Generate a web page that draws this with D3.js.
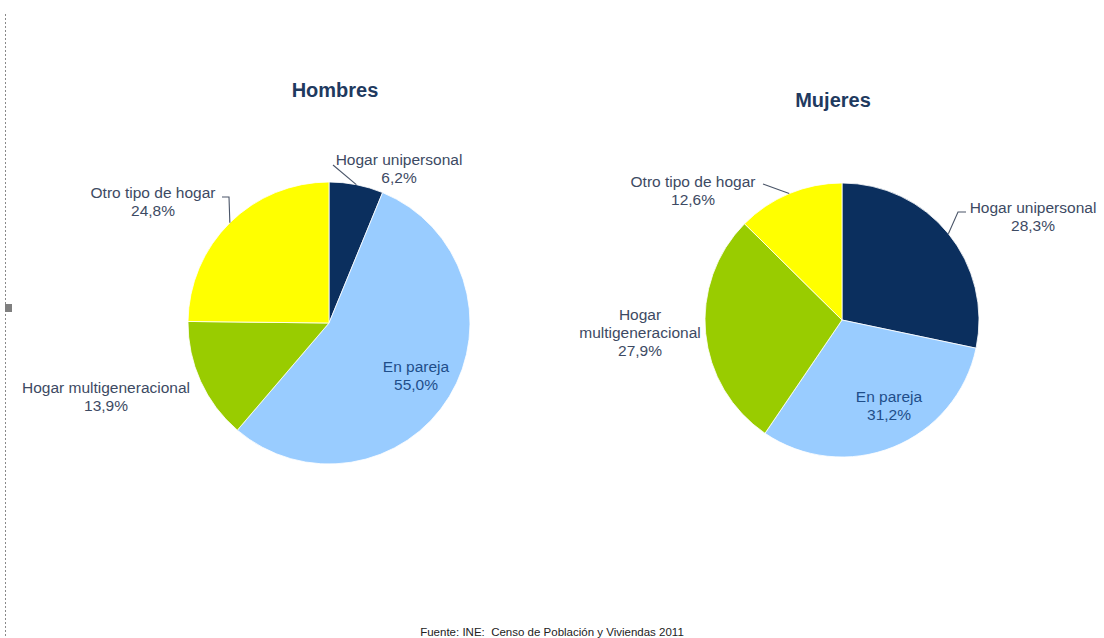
<!DOCTYPE html>
<html lang="es">
<head>
<meta charset="utf-8">
<script src="https://cdn.jsdelivr.net/npm/d3@7"></script>
<style>
  html, body { margin: 0; padding: 0; background: #ffffff; }
  svg { display: block; }
</style>
</head>
<body>
<svg id="chart" width="1104" height="638"></svg>
<script>
// Tipos de hogar (Censo 2011), porcentaje por sexo
const categories = ["Hogar unipersonal", "En pareja", "Hogar multigeneracional", "Otro tipo de hogar"];
const hombresValues = [6.2, 55.0, 13.9, 24.8];
const mujeresValues = [28.3, 31.2, 27.9, 12.6];
const panelTitles = ["Hombres", "Mujeres"];
const sourceNote = "Fuente: INE:  Censo de Población y Viviendas 2011";

const color = d3.scaleOrdinal()
  .domain(categories)
  .range(["#0b2f5e", "#99ccff", "#99cc00", "#ffff00"]);

const fmt = v => d3.format(".1f")(v).replace(".", ",") + "%";

const svg = d3.select("#chart");

// Page margin marker on the left
svg.append("line")
  .attr("x1", 5.5).attr("x2", 5.5).attr("y1", 14).attr("y2", 638)
  .attr("stroke", "#8a8a8a").attr("stroke-width", 1)
  .attr("stroke-dasharray", "2,2");
svg.append("rect")
  .attr("x", 5).attr("y", 304).attr("width", 7).attr("height", 8)
  .attr("fill", "#7f7f7f");

// Layout of each panel: pie centre, radius, title and label placement
const panels = [
  {
    title: panelTitles[0], values: hombresValues,
    cx: 329, cy: 323, r: 141, titleX: 335, titleY: 90,
    labels: [
      { lines: ["Hogar unipersonal"], x: 399, y: 160, leader: [[333, 165]] },
      { lines: ["En pareja"], x: 416, y: 367, inside: true },
      { lines: ["Hogar multigeneracional"], x: 106, y: 388 },
      { lines: ["Otro tipo de hogar"], x: 153, y: 193, leader: [[222, 197], [229, 197]] }
    ]
  },
  {
    title: panelTitles[1], values: mujeresValues,
    cx: 842, cy: 320, r: 137, titleX: 833, titleY: 100,
    labels: [
      { lines: ["Hogar unipersonal"], x: 1033, y: 208, leader: [[966, 212], [958, 212]] },
      { lines: ["En pareja"], x: 889, y: 397, inside: true },
      { lines: ["Hogar", "multigeneracional"], x: 640, y: 315 },
      { lines: ["Otro tipo de hogar"], x: 693, y: 182, leader: [[763, 184]] }
    ]
  }
];

const pie = d3.pie().sort(null).value(d => d.value);

panels.forEach(p => {
  const g = svg.append("g");
  const data = categories.map((c, i) => ({ category: c, value: p.values[i] }));
  const arcs = pie(data);
  const arc = d3.arc().innerRadius(0).outerRadius(p.r);

  g.append("text")
    .attr("x", p.titleX).attr("y", p.titleY).attr("dy", "0.35em")
    .attr("text-anchor", "middle")
    .attr("font-family", "Liberation Sans, Arial, sans-serif")
    .attr("font-weight", "bold").attr("font-size", 20)
    .attr("fill", "#1f3a5f")
    .text(p.title);

  g.append("g")
    .attr("transform", `translate(${p.cx},${p.cy})`)
    .selectAll("path")
    .data(arcs)
    .join("path")
    .attr("d", arc)
    .attr("fill", d => color(d.data.category))
    .attr("stroke", "#ffffff")
    .attr("stroke-width", 0.8);

  arcs.forEach((a, i) => {
    const lab = p.labels[i];
    if (lab.leader) {
      // leader ends on the outer edge at the slice's mid angle
      const mid = (a.startAngle + a.endAngle) / 2;
      const edge = [p.cx + p.r * Math.sin(mid), p.cy - p.r * Math.cos(mid)];
      g.append("path")
        .attr("d", d3.line()(lab.leader.concat([edge])))
        .attr("fill", "none")
        .attr("stroke", "#4a5568")
        .attr("stroke-width", 1.1);
    }
    const t = g.append("text")
      .attr("text-anchor", "middle")
      .attr("font-family", "Liberation Sans, Arial, sans-serif")
      .attr("font-size", 15.5)
      .attr("fill", lab.inside ? "#1f4e8a" : "#3d4a63");
    const lines = lab.lines.concat([fmt(a.data.value)]);
    lines.forEach((ln, k) => {
      t.append("tspan")
        .attr("x", lab.x)
        .attr("y", lab.y + k * 18)
        .attr("dy", "0.35em")
        .text(ln);
    });
  });
});

svg.append("text")
  .attr("x", 552).attr("y", 632).attr("dy", "0.35em")
  .attr("text-anchor", "middle")
  .attr("font-family", "Liberation Sans, Arial, sans-serif")
  .attr("font-size", 11.5)
  .attr("fill", "#222222")
  .style("white-space", "pre")
  .text(sourceNote);
</script>
</body>
</html>
